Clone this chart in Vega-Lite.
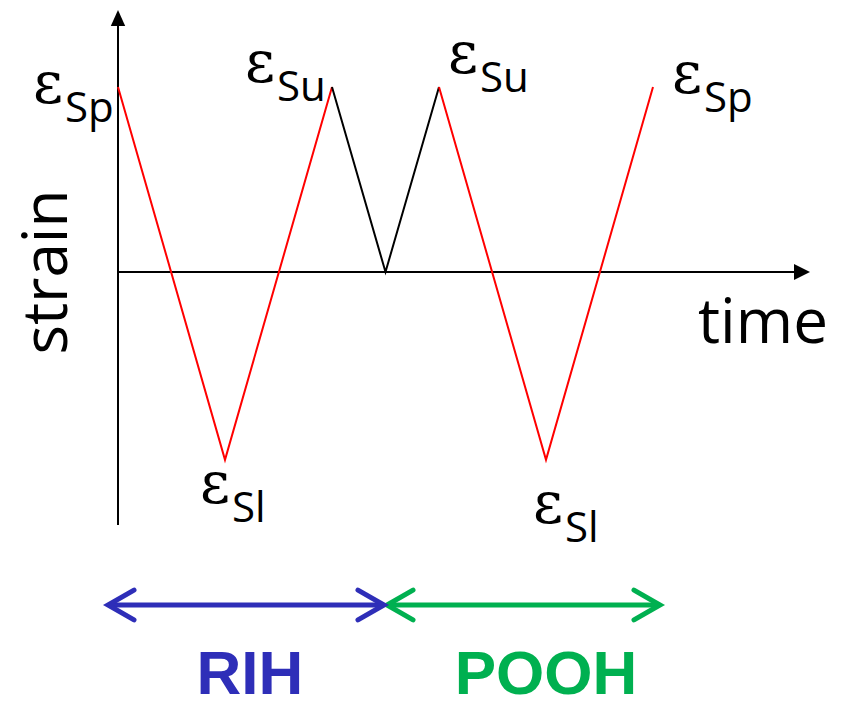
{
  "$schema": "https://vega.github.io/schema/vega-lite/v6.json",
  "width": 842,
  "height": 701,
  "autosize": {"type": "none"},
  "padding": 0,
  "background": "white",
  "config": {"view": {"stroke": null}},
  "datasets": {
    "cycle": [
      {"t": 0, "s": 1, "segment": "red1"},
      {"t": 2, "s": -1.015, "segment": "red1"},
      {"t": 4, "s": 1, "segment": "red1"},
      {"t": 4, "s": 1, "segment": "black"},
      {"t": 5, "s": 0, "segment": "black"},
      {"t": 6, "s": 1, "segment": "black"},
      {"t": 6, "s": 1, "segment": "red2"},
      {"t": 8, "s": -1.015, "segment": "red2"},
      {"t": 10, "s": 1, "segment": "red2"}
    ],
    "axes": [
      {"t": 0, "s": -1.368, "axis": "strain"},
      {"t": 0, "s": 1.35, "axis": "strain"},
      {"t": 0, "s": 0, "axis": "time"},
      {"t": 12.75, "s": 0, "axis": "time"}
    ],
    "heads": [
      {"t": 0, "s": 1.373, "dir": "up"},
      {"t": 12.785, "s": 0, "dir": "right"}
    ],
    "labels": [
      {"t": -1.589, "s": 0.914, "sub": "Sp"},
      {"t": 2.374, "s": 1.027, "sub": "Su"},
      {"t": 6.168, "s": 1.076, "sub": "Su"},
      {"t": 10.355, "s": 0.968, "sub": "Sp"},
      {"t": 1.533, "s": -1.249, "sub": "Sl"},
      {"t": 7.757, "s": -1.357, "sub": "Sl"}
    ],
    "titles": [
      {"t": -0.953, "s": 0, "text": "strain", "angle": "vertical"},
      {"t": 10.841, "s": -0.384, "text": "time", "angle": "horizontal"}
    ],
    "phases": [
      {"t": -0.15, "s": -1.8, "phase": "RIH"},
      {"t": 4.897, "s": -1.8, "phase": "RIH"},
      {"t": 5.065, "s": -1.8, "phase": "POOH"},
      {"t": 10.093, "s": -1.8, "phase": "POOH"}
    ],
    "chevrons": [
      {"t": 0.056, "s": -1.8, "phase": "RIH", "dir": "left"},
      {"t": 4.729, "s": -1.8, "phase": "RIH", "dir": "right"},
      {"t": 5.271, "s": -1.8, "phase": "POOH", "dir": "left"},
      {"t": 9.888, "s": -1.8, "phase": "POOH", "dir": "right"}
    ],
    "phaseLabels": [
      {"t": 2.467, "s": -2.281, "phase": "RIH"},
      {"t": 8.0, "s": -2.281, "phase": "POOH"}
    ]
  },
  "encoding": {
    "x": {"field": "t", "type": "quantitative", "axis": null,
          "scale": {"domain": [-2.20561, 13.53271], "nice": false, "zero": false}},
    "y": {"field": "s", "type": "quantitative", "axis": null,
          "scale": {"domain": [-2.31892, 1.47027], "nice": false, "zero": false}}
  },
  "layer": [
    {
      "data": {"name": "axes"},
      "mark": {"type": "line", "color": "black", "strokeWidth": 2},
      "encoding": {"detail": {"field": "axis"}}
    },
    {
      "data": {"name": "heads"},
      "transform": [{"filter": "datum.dir === 'up'"}],
      "mark": {"type": "point", "shape": "M0,-1L-0.9,1L0.9,1Z", "filled": true, "color": "black", "size": 256, "opacity": 1}
    },
    {
      "data": {"name": "heads"},
      "transform": [{"filter": "datum.dir === 'right'"}],
      "mark": {"type": "point", "shape": "M1,0L-1,-1L-1,1Z", "filled": true, "color": "black", "size": 256, "opacity": 1}
    },
    {
      "data": {"name": "cycle"},
      "mark": {"type": "line", "strokeWidth": 2},
      "encoding": {
        "color": {"field": "segment", "type": "nominal", "legend": null,
                  "scale": {"domain": ["red1", "black", "red2"], "range": ["#FF0000", "#000000", "#FF0000"]}},
        "order": {"field": "t", "type": "quantitative"}
      }
    },
    {
      "data": {"name": "labels"},
      "mark": {"type": "text", "text": "ε", "font": "DejaVu Serif", "fontSize": 58, "align": "left", "baseline": "alphabetic", "color": "black"}
    },
    {
      "data": {"name": "labels"},
      "mark": {"type": "text", "font": "Open Sans", "fontSize": 42, "align": "left", "baseline": "alphabetic", "dx": 32, "dy": 19, "color": "black"},
      "encoding": {"text": {"field": "sub"}}
    },
    {
      "data": {"name": "titles"},
      "transform": [{"filter": "datum.angle === 'vertical'"}],
      "mark": {"type": "text", "font": "Open Sans", "fontSize": 62, "angle": 270, "align": "center", "baseline": "alphabetic", "color": "black"},
      "encoding": {"text": {"field": "text"}}
    },
    {
      "data": {"name": "titles"},
      "transform": [{"filter": "datum.angle === 'horizontal'"}],
      "mark": {"type": "text", "font": "Open Sans", "fontSize": 62, "align": "left", "baseline": "alphabetic", "color": "black"},
      "encoding": {"text": {"field": "text"}}
    },
    {
      "data": {"name": "phases"},
      "mark": {"type": "line", "strokeWidth": 5},
      "encoding": {
        "color": {"field": "phase", "type": "nominal", "legend": null,
                  "scale": {"domain": ["RIH", "POOH"], "range": ["#2E2EB8", "#00B050"]}},
        "detail": {"field": "phase"}
      }
    },
    {
      "data": {"name": "chevrons"},
      "transform": [{"filter": "datum.dir === 'left'"}],
      "mark": {"type": "point", "shape": "M1,-1.15L-1,0L1,1.15", "filled": false, "size": 676, "strokeWidth": 5, "strokeCap": "round", "opacity": 1},
      "encoding": {
        "color": {"field": "phase", "type": "nominal", "legend": null,
                  "scale": {"domain": ["RIH", "POOH"], "range": ["#2E2EB8", "#00B050"]}}
      }
    },
    {
      "data": {"name": "chevrons"},
      "transform": [{"filter": "datum.dir === 'right'"}],
      "mark": {"type": "point", "shape": "M-1,-1.15L1,0L-1,1.15", "filled": false, "size": 676, "strokeWidth": 5, "strokeCap": "round", "opacity": 1},
      "encoding": {
        "color": {"field": "phase", "type": "nominal", "legend": null,
                  "scale": {"domain": ["RIH", "POOH"], "range": ["#2E2EB8", "#00B050"]}}
      }
    },
    {
      "data": {"name": "phaseLabels"},
      "mark": {"type": "text", "font": "Liberation Sans", "fontWeight": "bold", "fontSize": 62, "align": "center", "baseline": "alphabetic"},
      "encoding": {
        "text": {"field": "phase"},
        "color": {"field": "phase", "type": "nominal", "legend": null,
                  "scale": {"domain": ["RIH", "POOH"], "range": ["#2E2EB8", "#00B050"]}}
      }
    }
  ],
  "resolve": {"scale": {"color": "independent"}}
}
